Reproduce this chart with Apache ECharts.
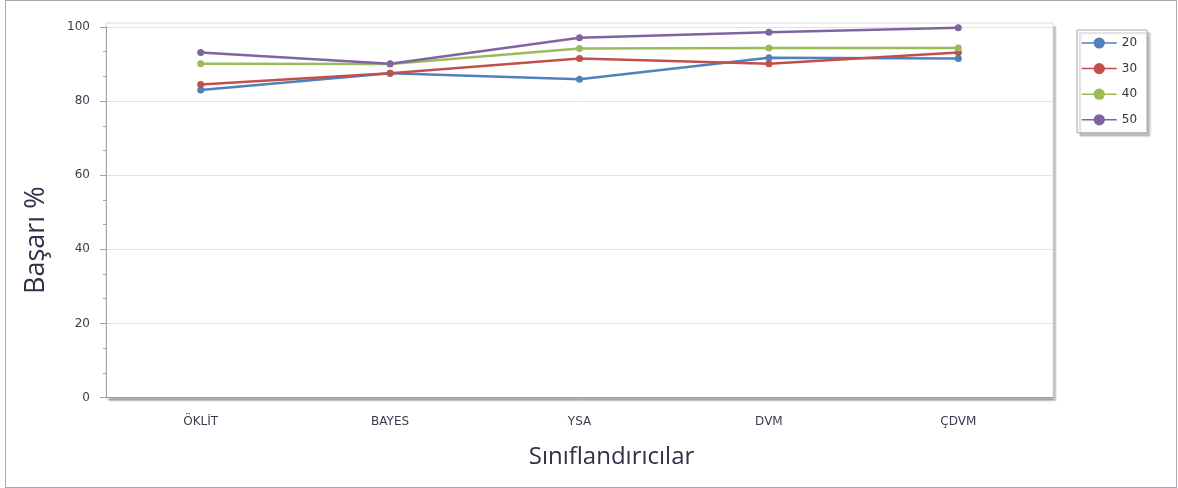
<!DOCTYPE html>
<html>
<head>
<meta charset="utf-8">
<script src="https://cdn.jsdelivr.net/npm/echarts@6/dist/echarts.min.js"></script>
<style>
  html, body { margin: 0; padding: 0; background: #fff; }
  #chart { position: absolute; left: 0; top: 0; width: 1178px; height: 488px; }
  #frame { position: absolute; left: 5px; top: 0; width: 1172px; height: 488px;
           border: 1px solid #a9a9b1; box-sizing: border-box; pointer-events: none; }
</style>
</head>
<body>
<div id="chart"></div>
<div id="frame"></div>
<script>
// Classifier accuracy (%) per training-set size
const categories = ['ÖKLİT', 'BAYES', 'YSA', 'DVM', 'ÇDVM'];
const seriesNames = ['20', '30', '40', '50'];
const s20 = [83.0, 87.5, 85.9, 91.7, 91.5];
const s30 = [84.5, 87.5, 91.5, 90.1, 93.1];
const s40 = [90.1, 90.0, 94.2, 94.3, 94.3];
const s50 = [93.1, 90.1, 97.1, 98.6, 99.8];
const yMin = 0, yMax = 100, yStep = 20;
const colors = ['#4f81bd', '#c0504d', '#9bbb59', '#8064a2'];

const seriesData = [s20, s30, s40, s50];
const labelFont = 'DejaVu Sans';
const titleFont = 'Open Sans';
const axisGray = '#a3a3a3';

// finer tick marks along the category axis: five per category
const minorSlots = new Array(categories.length * 5).fill('');

const frameBox = { left: 106, right: 125, top: 23, bottom: 90.5 };

const chart = echarts.init(document.getElementById('chart'), null, { renderer: 'canvas' });

chart.setOption({
  animation: false,
  backgroundColor: '#fff',
  grid: [
    {
      // white panel with a drop shadow behind the plot
      ...frameBox,
      show: true, backgroundColor: '#fff', borderWidth: 0,
      shadowColor: 'rgba(0,0,0,0.26)', shadowBlur: 1.5, shadowOffsetX: 3, shadowOffsetY: 3
    },
    {
      // light outline of the plot panel
      ...frameBox,
      show: true, backgroundColor: 'transparent',
      borderColor: '#dcdcdc', borderWidth: 1
    },
    {
      // plotting area: 0..100 ends a few pixels under the panel top
      left: 106, right: 125, top: 27, bottom: 90.5,
      show: false
    }
  ],
  legend: {
    orient: 'vertical',
    left: 1077, top: 30,
    padding: [6, 10, 6, 4],
    itemWidth: 35, itemHeight: 14, itemGap: 11.6,
    backgroundColor: '#fff',
    borderColor: '#a8a8a8', borderWidth: 1,
    shadowColor: 'rgba(0,0,0,0.26)', shadowBlur: 1.5, shadowOffsetX: 3, shadowOffsetY: 3,
    lineStyle: { width: 1.5 },
    textStyle: { fontFamily: labelFont, fontSize: 12, color: '#333340', lineHeight: 14 },
    data: seriesNames
  },
  xAxis: [
    {
      type: 'category',
      gridIndex: 2,
      data: categories,
      boundaryGap: true,
      name: 'Sınıflandırıcılar',
      nameLocation: 'middle',
      nameGap: 48,
      nameTextStyle: { fontFamily: titleFont, fontSize: 24, color: '#30304a', padding: [0, 0, 0, 64] },
      axisLine: {
        lineStyle: { color: '#9a9a9a', width: 1,
          shadowColor: 'rgba(0,0,0,0.22)', shadowBlur: 1.5, shadowOffsetY: 2 }
      },
      axisTick: { alignWithLabel: true, length: 6, lineStyle: { color: axisGray } },
      axisLabel: { fontFamily: labelFont, fontSize: 12, color: '#3b3b4f', margin: 18 },
      splitLine: { show: false }
    },
    {
      type: 'category',
      gridIndex: 2,
      position: 'bottom',
      data: minorSlots,
      boundaryGap: true,
      axisLine: { show: false },
      axisTick: { alignWithLabel: true, interval: 0, length: 3, lineStyle: { color: axisGray } },
      axisLabel: { show: false },
      splitLine: { show: false }
    }
  ],
  yAxis: {
    type: 'value',
    gridIndex: 2,
    min: yMin, max: yMax, interval: yStep,
    name: 'Başarı %',
    nameLocation: 'middle',
    nameGap: 56,
    nameTextStyle: { fontFamily: titleFont, fontSize: 27, color: '#30304a', padding: [0, 56, 0, 0] },
    axisLine: { show: true, lineStyle: { color: axisGray } },
    axisTick: { show: true, length: 6, lineStyle: { color: axisGray } },
    minorTick: { show: true, splitNumber: 3, length: 3, lineStyle: { color: axisGray } },
    axisLabel: { fontFamily: labelFont, fontSize: 12, color: '#3b3b4f', margin: 16 },
    splitLine: { show: true, lineStyle: { color: '#e2e2e2', width: 1 } },
    minorSplitLine: { show: false }
  },
  series: seriesNames.map((name, i) => ({
    name: name,
    type: 'line',
    xAxisIndex: 0,
    yAxisIndex: 0,
    data: seriesData[i],
    symbol: 'circle',
    symbolSize: 7,
    color: colors[i],
    lineStyle: { width: 2.5, color: colors[i] },
    itemStyle: { color: colors[i] }
  }))
});
</script>
</body>
</html>
